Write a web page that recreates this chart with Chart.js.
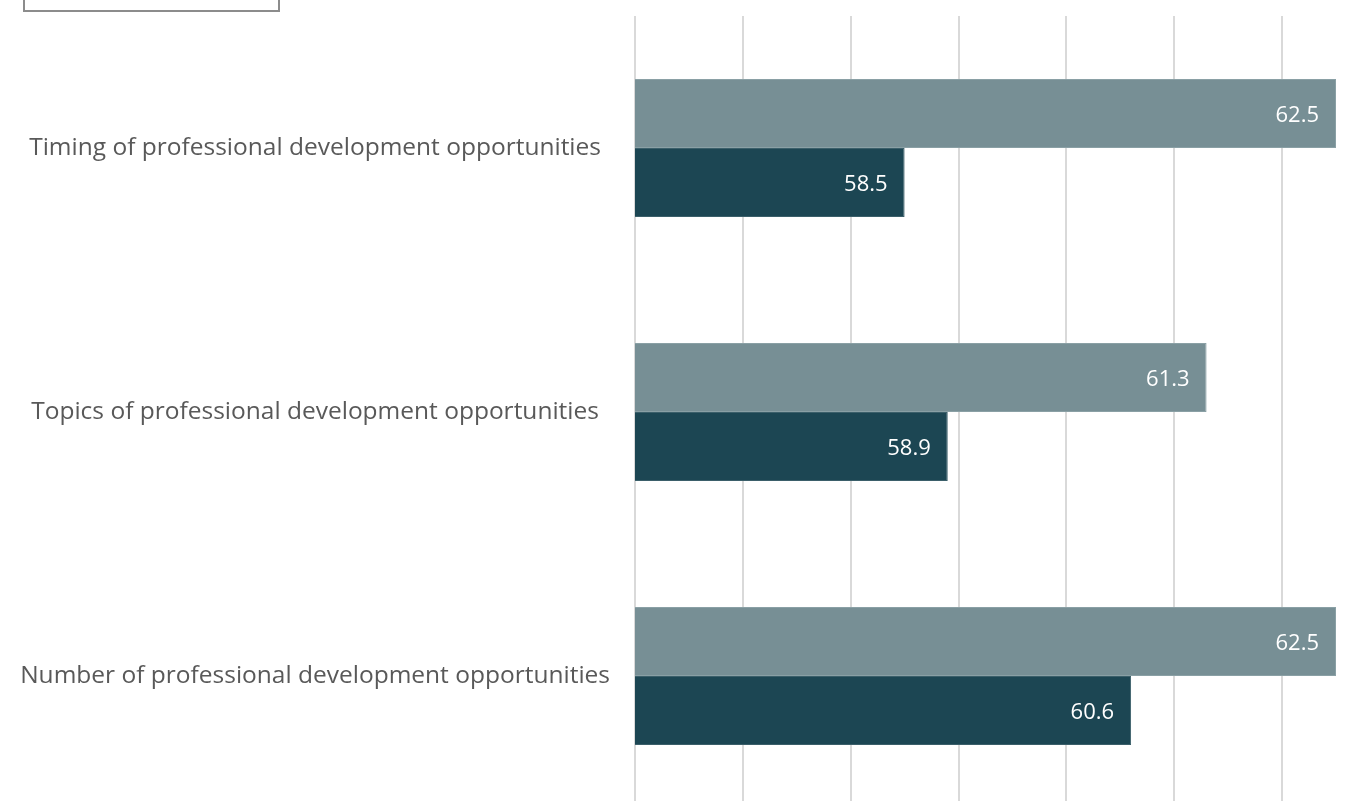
<!DOCTYPE html>
<html>
<head>
<meta charset="utf-8">
<script src="https://cdn.jsdelivr.net/npm/chart.js@4"></script>
<style>
  html, body { margin: 0; padding: 0; background: #fff; overflow: hidden; }
  #wrap { position: relative; width: 1358px; height: 810px; }
  #legendBox { position: absolute; left: 23px; top: -12px; width: 253px; height: 20px; border: 2px solid #8c8c8c; background: #fff; }
</style>
</head>
<body>
<div id="wrap">
  <canvas id="chart" width="1358" height="810"></canvas>
  <div id="legendBox"></div>
</div>
<script>
const categories = [
    "Timing of professional development opportunities",
    "Topics of professional development opportunities",
    "Number of professional development opportunities"
];
const seriesNames = ["Series A", "Series B"];
const seriesA = [62.5, 61.3, 62.5];
const seriesB = [58.5, 58.9, 60.6];
const xMin = 56;
const xMax = 62.5;

const valueLabels = {
    id: "valueLabels",
    afterDatasetsDraw(chart) {
        const ctx = chart.ctx;
        ctx.save();
        ctx.fillStyle = "#ffffff";
        ctx.font = "22px 'Open Sans'";
        ctx.textAlign = "right";
        ctx.textBaseline = "middle";
        chart.data.datasets.forEach((ds, i) => {
            chart.getDatasetMeta(i).data.forEach((bar, j) => {
                ctx.fillText(ds.data[j].toFixed(1), bar.x - 17, bar.y + 2);
            });
        });
        ctx.restore();
    }
};

new Chart(document.getElementById("chart"), {
    type: "bar",
    data: {
        labels: categories,
        datasets: [
            { label: seriesNames[0], data: seriesA, backgroundColor: "#778f95", borderColor: "#8aa0a5", borderWidth: 1 },
            { label: seriesNames[1], data: seriesB, backgroundColor: "#1c4653", borderColor: "#3b5f6a", borderWidth: 1 }
        ]
    },
    options: {
        indexAxis: "y",
        responsive: false,
        animation: false,
        layout: { padding: { top: 16, right: 22, bottom: 2, left: 0 } },
        datasets: { bar: { categoryPercentage: 0.523, barPercentage: 1.0 } },
        scales: {
            x: {
                min: xMin,
                max: xMax,
                ticks: { display: false, stepSize: 1 },
                grid: {
                    color: c => Number.isInteger(c.tick.value) ? "#d9d9d9" : "rgba(0,0,0,0)",
                    lineWidth: 2,
                    drawTicks: false
                },
                border: { display: false },
                afterFit(scale) { scale.height = 0; }
            },
            y: {
                ticks: {
                    color: "#595959",
                    font: { family: "'Open Sans'", size: 24.5 },
                    crossAlign: "center",
                    padding: 25
                },
                grid: { display: false, drawTicks: false },
                border: { display: false },
                afterFit(scale) {
                    scale.width = 635;
                    scale.paddingTop = 0;
                    scale.paddingBottom = 0;
                }
            }
        },
        plugins: {
            legend: { display: false },
            tooltip: { enabled: false }
        }
    },
    plugins: [valueLabels]
});
</script>
</body>
</html>
